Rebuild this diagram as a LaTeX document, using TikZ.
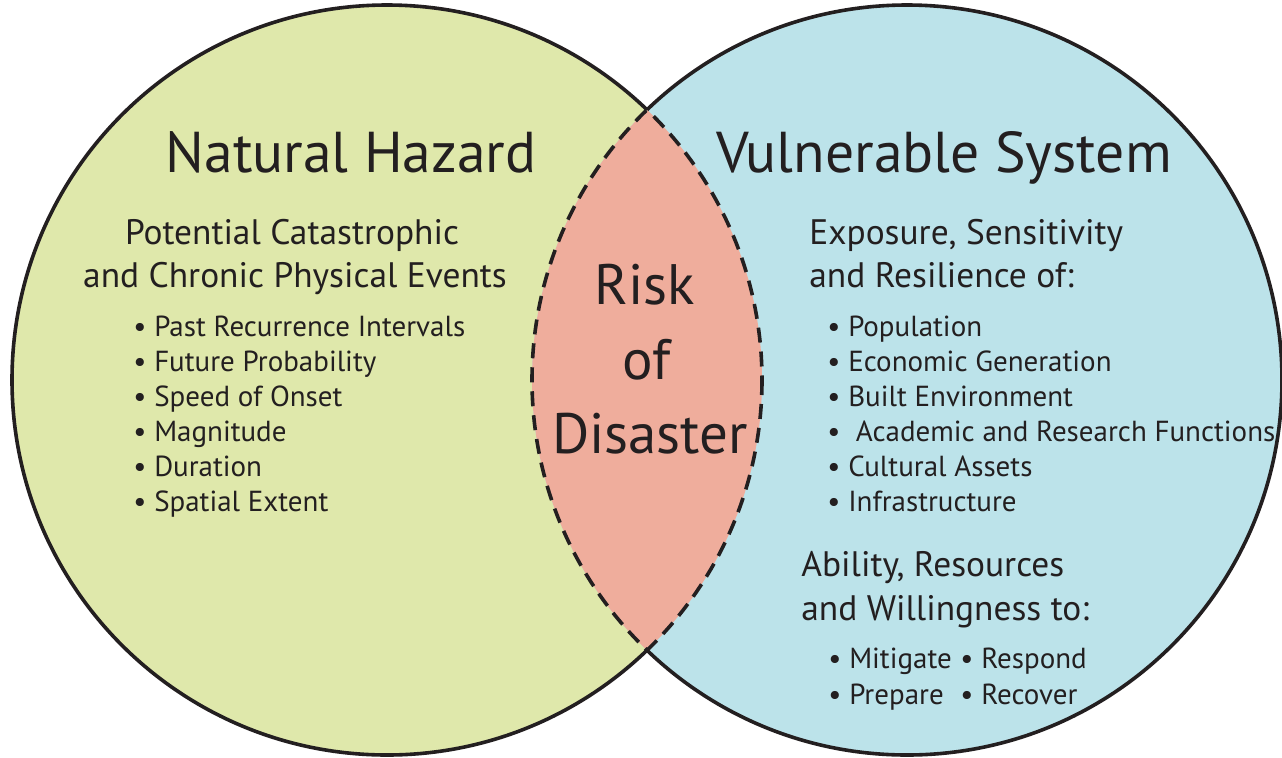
\documentclass[tikz,border=0pt]{standalone}
\usepackage{fontspec}
\setmainfont{PT Sans}
\usepackage{tikz}
\usetikzlibrary{positioning}

\definecolor{hazardgreen}{HTML}{DFE8AB}
\definecolor{systemblue}{HTML}{BCE3EA}
\definecolor{risksalmon}{HTML}{EFAD9C}
\definecolor{inkblack}{HTML}{231F20}

\begin{document}
\begin{tikzpicture}[
  x=0.5pt, y=-0.5pt,
  ring/.style={draw=inkblack, line width=1.8pt},
  lensline/.style={draw=inkblack, line width=1.8pt, dash pattern=on 7.5pt off 4.5pt},
  every node/.style={inner sep=0pt, text=inkblack},
  heading/.style={font=\fontsize{28.8}{34}\selectfont, anchor=base},
  riskline/.style={font=\fontsize{28.5}{34}\selectfont, anchor=base},
  subhead/.style={font=\fontsize{17.7}{21}\selectfont},
  item/.style={font=\fontsize{14.5}{17}\selectfont, anchor=base west}
]
\useasboundingbox (0,0) rectangle (1282,757);
\coordinate (hazard) at (387,380);
\coordinate (system) at (907,380);

% the two sets
\fill[hazardgreen] (hazard) circle (375);
\fill[systemblue] (system) circle (375);
\begin{scope}
  \clip (hazard) circle (375);
  \fill[risksalmon] (system) circle (375);
\end{scope}

% solid outer arcs
\begin{scope}[even odd rule]
  \clip (-20,-20) rectangle (1310,780) (system) circle (375);
  \draw[ring] (hazard) circle (375);
\end{scope}
\begin{scope}[even odd rule]
  \clip (-20,-20) rectangle (1310,780) (hazard) circle (375);
  \draw[ring] (system) circle (375);
\end{scope}

% dashed overlap
\begin{scope}
  \clip (system) circle (375);
  \draw[lensline] (hazard) circle (375);
\end{scope}
\begin{scope}
  \clip (hazard) circle (375);
  \draw[lensline] (system) circle (375);
\end{scope}

% left set
\node[heading] (hazardtitle) at (351,172) {Natural Hazard};
\node[subhead, anchor=base] (hazardsub1) at (292,244) {Potential Catastrophic};
\node[subhead, anchor=base] (hazardsub2) at (295,287) {and Chronic Physical Events};
\foreach \txt [count=\i] in {Past Recurrence Intervals, Future Probability,
    Speed of Onset, Magnitude, Duration, Spatial Extent}
  \node[item] (hazarditem\i) at (133,301+35*\i) {\textbullet\ \txt};

% overlap
\node[riskline] (risk1) at (645,304) {Risk};
\node[riskline] (risk2) at (647,379) {of};
\node[riskline] (risk3) at (650,453) {Disaster};

% right set
\node[heading] (systemtitle) at (944,172) {Vulnerable System};
\node[subhead, anchor=base west] (systemsub1) at (809,244) {Exposure, Sensitivity};
\node[subhead, anchor=base west] (systemsub2) at (809,287) {and Resilience of:};
\foreach \txt [count=\i] in {Population, Economic Generation, Built Environment,
    {\ Academic and Research Functions}, Cultural Assets, Infrastructure}
  \node[item] (systemitem\i) at (827,301+35*\i) {\textbullet\ \txt};

\node[subhead, anchor=base west] (abilitysub1) at (801,576) {Ability, Resources};
\node[subhead, anchor=base west] (abilitysub2) at (801,620) {and Willingness to:};
\node[item] (mitigate) at (828,668) {\textbullet\ Mitigate};
\node[item] (respond) at (960,668) {\textbullet\ Respond};
\node[item] (prepare) at (828,704) {\textbullet\ Prepare};
\node[item] (recover) at (960,704) {\textbullet\ Recover};
\end{tikzpicture}
\end{document}
